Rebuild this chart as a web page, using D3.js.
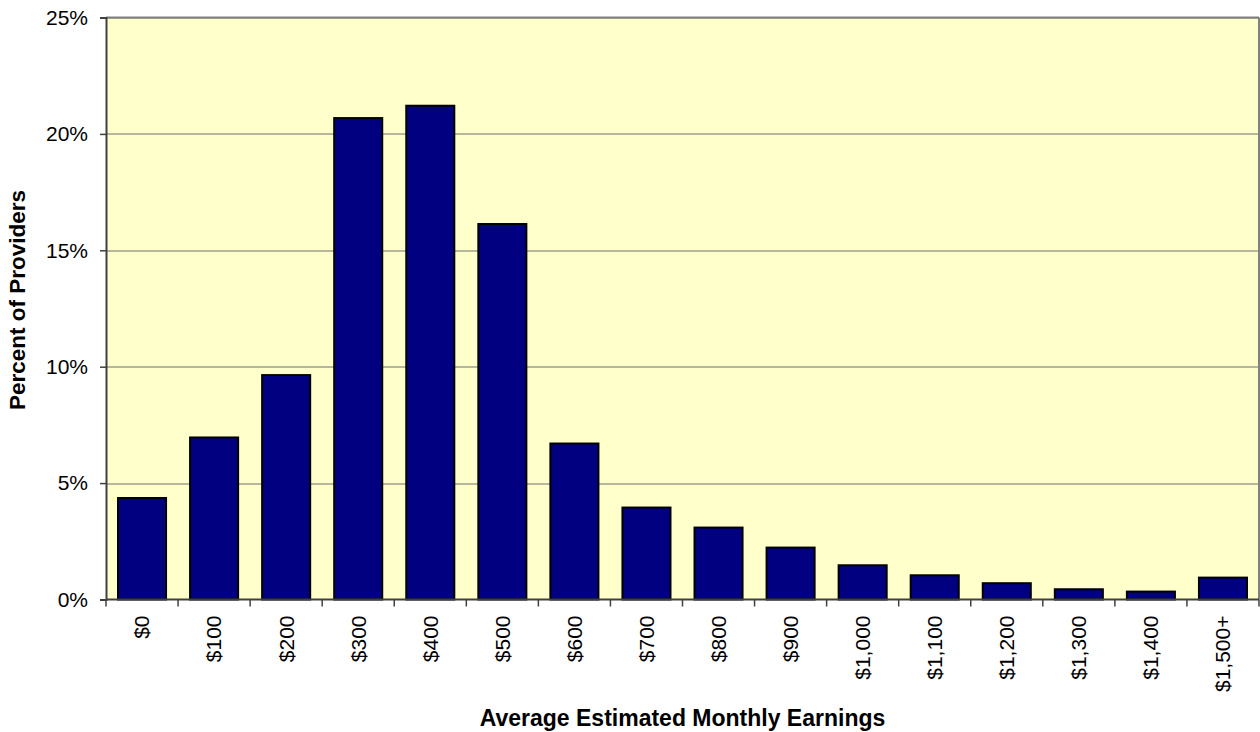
<!DOCTYPE html>
<html>
<head>
<meta charset="utf-8">
<script src="https://cdn.jsdelivr.net/npm/d3@7"></script>
<style>
  html, body { margin: 0; padding: 0; background: #ffffff; }
  svg { display: block; font-family: "Liberation Sans", Arial, sans-serif; }
</style>
</head>
<body>
<svg id="chart" width="1260" height="732"></svg>
<script>
const categories = ["$0", "$100", "$200", "$300", "$400", "$500", "$600", "$700", "$800", "$900", "$1,000", "$1,100", "$1,200", "$1,300", "$1,400", "$1,500+"];
const values = [4.36, 6.96, 9.64, 20.68, 21.21, 16.13, 6.70, 3.95, 3.09, 2.23, 1.47, 1.04, 0.70, 0.44, 0.34, 0.94];
const yTicks = [0, 5, 10, 15, 20, 25];
const xTitle = "Average Estimated Monthly Earnings";
const yTitle = "Percent of Providers";

const svg = d3.select("#chart");
const margin = { left: 106, top: 17.5, right: 1, bottom: 132.5 };
const W = 1260, H = 732;
const plotW = W - margin.left - margin.right;
const plotH = H - margin.top - margin.bottom;

const x = d3.scaleBand().domain(categories).range([0, plotW]).paddingInner(1/3).paddingOuter(1/6);
const xb = d3.scaleBand().domain(categories).range([0, plotW]);
const y = d3.scaleLinear().domain([0, 25]).range([plotH, 0]);

const g = svg.append("g").attr("transform", `translate(${margin.left},${margin.top})`);

g.append("rect").attr("width", plotW).attr("height", plotH).attr("fill", "#FFFFCC");

// gridlines
g.selectAll(".grid").data(yTicks.filter(t => t > 0)).join("line")
  .attr("x1", 0).attr("x2", plotW)
  .attr("y1", d => Math.round(y(d)) + 0.5).attr("y2", d => Math.round(y(d)) + 0.5)
  .attr("stroke", "#6e6e6e").attr("stroke-width", 1);

// plot border (top/right)
g.append("line").attr("x1", 0).attr("x2", plotW).attr("y1", 0).attr("y2", 0).attr("stroke", "#808080").attr("stroke-width", 2);
g.append("line").attr("x1", plotW).attr("x2", plotW).attr("y1", 0).attr("y2", plotH).attr("stroke", "#808080").attr("stroke-width", 2);

// bars
g.selectAll(".bar").data(values).join("rect")
  .attr("x", (d, i) => x(categories[i]))
  .attr("width", x.bandwidth())
  .attr("y", d => y(d))
  .attr("height", d => plotH - y(d))
  .attr("fill", "#000080")
  .attr("stroke", "#000000").attr("stroke-width", 2);

// y axis
const yAxis = d3.axisLeft(y).tickValues(yTicks).tickFormat(d => d + "%").tickSize(6).tickPadding(12);
const ya = g.append("g").call(yAxis);
ya.select(".domain").attr("stroke", "#404040").attr("stroke-width", 2);
ya.selectAll(".tick line").attr("stroke", "#404040").attr("stroke-width", 1.5);
ya.selectAll("text").attr("font-size", 21).attr("fill", "#000").attr("font-family", "Liberation Sans, Arial, sans-serif");

// x axis
const xa = g.append("g").attr("transform", `translate(0,${plotH})`);
xa.append("line").attr("x1", 0).attr("x2", plotW).attr("y1", 0).attr("y2", 0).attr("stroke", "#404040").attr("stroke-width", 2);
const boundaries = categories.map(c => xb(c)).concat([plotW]);
xa.selectAll(".xt").data(boundaries).join("line")
  .attr("x1", d => d).attr("x2", d => d).attr("y1", 0).attr("y2", 7)
  .attr("stroke", "#404040").attr("stroke-width", 1.5);
xa.selectAll(".xl").data(categories).join("text")
  .attr("transform", d => `translate(${xb(d) + xb.bandwidth() / 2},${16}) rotate(-90)`)
  .attr("text-anchor", "end").attr("dy", "0.35em")
  .attr("font-size", 21).attr("fill", "#000")
  .text(d => d);

// titles
svg.append("text").attr("x", margin.left + plotW / 2 + 0).attr("y", 726)
  .attr("text-anchor", "middle").attr("font-size", 23).attr("font-weight", "bold").text(xTitle);
svg.append("text").attr("transform", `translate(25,300) rotate(-90)`)
  .attr("text-anchor", "middle").attr("font-size", 22.5).attr("font-weight", "bold").text(yTitle);
</script>
</body>
</html>
